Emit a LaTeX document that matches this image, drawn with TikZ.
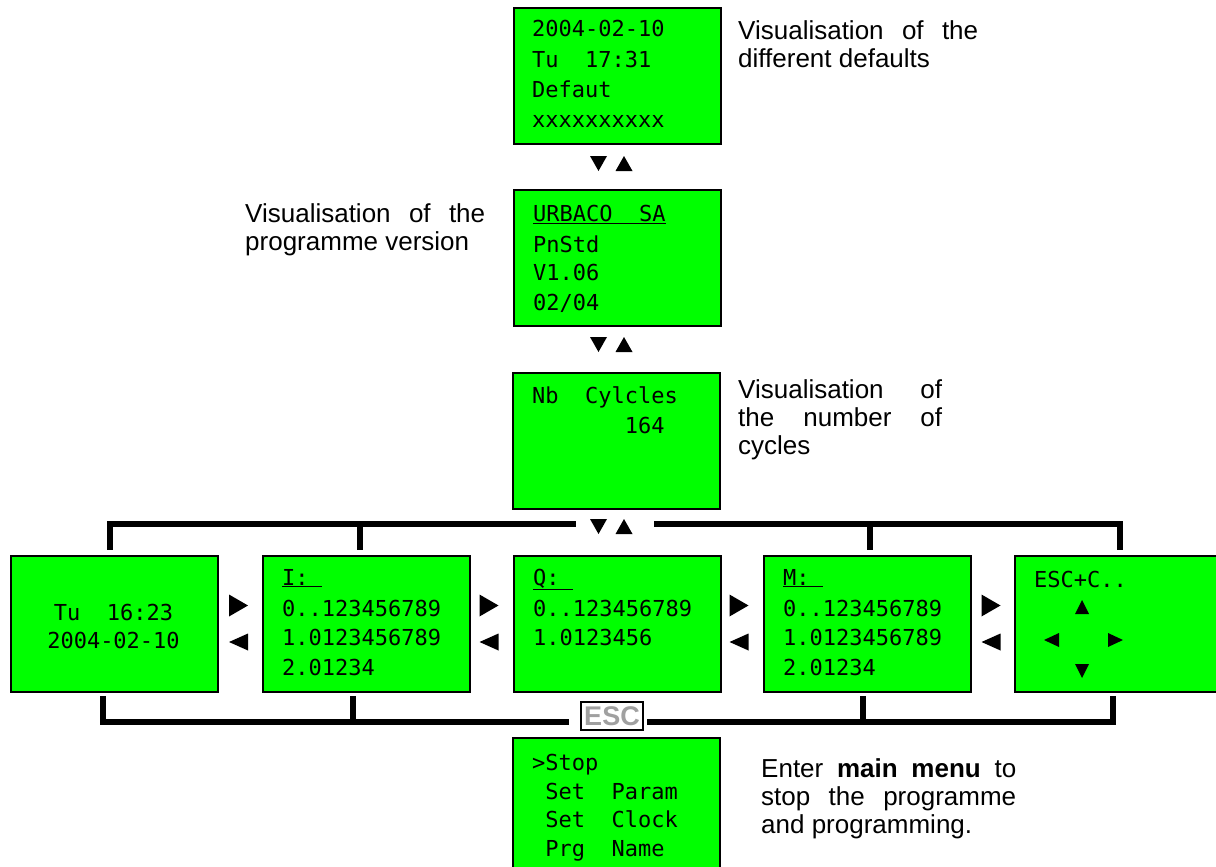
\documentclass[tikz,border=0pt]{standalone}
\usepackage{fontspec}
\setmainfont{Liberation Sans}
\newfontfamily\lcdfont{DejaVu Sans Mono}
\definecolor{lcdgreen}{RGB}{0,255,0}
\definecolor{escgray}{RGB}{160,160,160}
\newcommand\trid[4]{\fill ({#1-#3},{#2-#4}) -- ({#1+#3},{#2-#4}) -- ({#1},{#2+#4}) -- cycle;}
\newcommand\triu[4]{\fill ({#1-#3},{#2+#4}) -- ({#1+#3},{#2+#4}) -- ({#1},{#2-#4}) -- cycle;}
\newcommand\trir[4]{\fill ({#1-#3},{#2-#4}) -- ({#1-#3},{#2+#4}) -- ({#1+#3},{#2}) -- cycle;}
\newcommand\tril[4]{\fill ({#1+#3},{#2-#4}) -- ({#1+#3},{#2+#4}) -- ({#1-#3},{#2}) -- cycle;}
\begin{document}
\begin{tikzpicture}[x=1pt,y=-1pt,
  lcdbox/.style={draw=black, line width=2.2pt, fill=lcdgreen, minimum width=207pt, minimum height=136pt, inner sep=0pt, anchor=north west},
  lcdtxt/.style={font=\lcdfont\fontsize{22}{22}\selectfont, anchor=base west, inner sep=0pt},
  lcdmid/.style={font=\lcdfont\fontsize{22}{22}\selectfont, anchor=base, inner sep=0pt},
  sidetxt/.style={font=\fontsize{26}{30}\selectfont, anchor=base west, inner sep=0pt},
  bar/.style={line width=6pt, line join=miter, line cap=rect},
  escbox/.style={draw=black, line width=1.5pt, fill=white, minimum width=62pt, minimum height=28pt, inner sep=0pt, text=escgray, font=\bfseries\fontsize{27}{27}\selectfont}
]
\useasboundingbox (0,0) rectangle (1216,867);
\clip (0,0) rectangle (1216,867);

% ---- column boxes
\node[lcdbox] (def) at (513,7) {};
\node[lcdbox] (ver) at (513,189) {};
\node[lcdbox] (cyc) at (512,372) {};
% ---- row boxes
\node[lcdbox] (clk) at (10,555) {};
\node[lcdbox] (inp) at (262,555) {};
\node[lcdbox] (out) at (513,555) {};
\node[lcdbox] (mem) at (763,555) {};
\node[lcdbox, minimum width=205pt] (esc) at (1014,555) {};
% ---- menu box
\node[lcdbox] (menu) at (512,737) {};

% ---- texts in boxes
\node[lcdtxt] (d1) at (532,37) {2004-02-10};
\node[lcdtxt] (d2) at (532,68) {Tu~~17:31};
\node[lcdtxt] (d3) at (532,97) {Defaut};
\node[lcdtxt] (d4) at (532,127) {xxxxxxxxxx};

\node[lcdtxt] (v1) at (533,221) {\underline{URBACO~~SA}};
\node[lcdtxt] (v2) at (533,252) {PnStd};
\node[lcdtxt] (v3) at (533,280) {V1.06};
\node[lcdtxt] (v4) at (533,310) {02/04};

\node[lcdtxt] (c1) at (532,403) {Nb~~Cylcles};
\node[lcdtxt] (c2) at (532,433) {\hphantom{0000000}164};

\node[lcdmid] (k1) at (113.5,620) {Tu~~16:23};
\node[lcdmid] (k2) at (113.5,648) {2004-02-10};

\node[lcdtxt] (i1) at (282,585) {\underline{I:\hphantom{i}}};
\node[lcdtxt] (i2) at (282,616) {0..123456789};
\node[lcdtxt] (i3) at (282,645) {1.0123456789};
\node[lcdtxt] (i4) at (282,675) {2.01234};

\node[lcdtxt] (q1) at (533,585) {\underline{Q:\hphantom{i}}};
\node[lcdtxt] (q2) at (533,616) {0..123456789};
\node[lcdtxt] (q3) at (533,645) {1.0123456};

\node[lcdtxt] (m1) at (783,585) {\underline{M:\hphantom{i}}};
\node[lcdtxt] (m2) at (783,616) {0..123456789};
\node[lcdtxt] (m3) at (783,645) {1.0123456789};
\node[lcdtxt] (m4) at (783,675) {2.01234};

\node[lcdtxt] (e1) at (1034,587) {ESC+C..};
\triu{1082}{607}{7}{7}
\tril{1051.5}{640}{7.5}{7}
\trir{1115.5}{640}{7.5}{7}
\trid{1082}{671}{7}{7}

\node[lcdtxt] (n1) at (532,770) {>Stop};
\node[lcdtxt] (n2) at (532,799) {~Set~~Param};
\node[lcdtxt] (n3) at (532,827) {~Set~~Clock};
\node[lcdtxt] (n4) at (532,856) {~Prg~~Name};

% ---- vertical navigation triangles
\trid{598.5}{163.5}{8.5}{7.5}
\triu{624}{163.5}{8.5}{7.5}
\trid{598.5}{344.5}{8.5}{7.5}
\triu{624}{344.5}{8.5}{7.5}
\trid{598.5}{526.5}{8.5}{7.5}
\triu{624}{526.5}{8.5}{7.5}

% ---- horizontal navigation triangles
\foreach \cx in {238.5,489,739,991}{
  \trir{\cx}{605.5}{9.5}{11}
  \tril{\cx}{642}{9.5}{8.5}
}

% ---- top bracket
\coordinate (tl) at (110,547);
\coordinate (tr) at (1120,547);
\coordinate (tgl) at (573,524);
\coordinate (tgr) at (657,524);
\draw[bar] (tl) -- (110,524) -- (tgl);
\draw[bar] (tgr) -- (1120,524) -- (tr);
\draw[bar] (360,524) -- (360,547);
\draw[bar] (870,524) -- (870,547);

% ---- bottom bracket with ESC
\node[escbox] (escbtn) at (612,716) {ESC};
\coordinate (bl) at (103,699);
\coordinate (br) at (1113,699);
\coordinate (bgl) at (566,722);
\coordinate (bgr) at (650,722);
\draw[bar] (bl) -- (103,722) -- (bgl);
\draw[bar] (bgr) -- (1113,722) -- (br);
\draw[bar] (353,699) -- (353,722);
\draw[bar] (863,699) -- (863,722);

% ---- side texts
\node[sidetxt] (s1a) at (738,40) {\makebox[240pt][s]{Visualisation of the}};
\node[sidetxt] (s1b) at (738,68) {different defaults};

\node[sidetxt] (s2a) at (245,222) {\makebox[240pt][s]{Visualisation of the}};
\node[sidetxt] (s2b) at (245,250) {programme version};

\node[sidetxt] (s3a) at (738,398) {\makebox[204pt][s]{Visualisation of}};
\node[sidetxt] (s3b) at (738,426) {\makebox[204pt][s]{the number of}};
\node[sidetxt] (s3c) at (738,454) {cycles};

\node[sidetxt] (s4a) at (761,777) {\makebox[255pt][s]{Enter \textbf{main menu} to}};
\node[sidetxt] (s4b) at (761,805) {\makebox[255pt][s]{stop the programme}};
\node[sidetxt] (s4c) at (761,833) {and programming.};
\end{tikzpicture}
\end{document}
